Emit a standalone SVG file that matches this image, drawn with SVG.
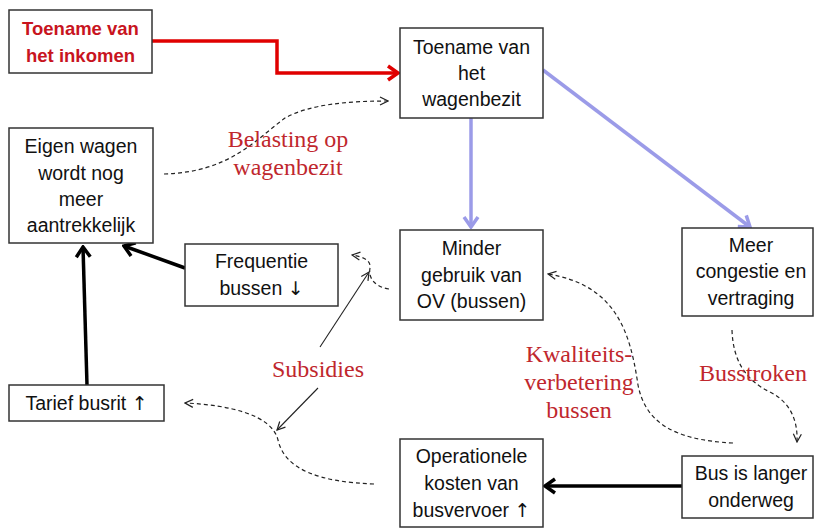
<svg xmlns="http://www.w3.org/2000/svg" width="814" height="528" viewBox="0 0 814 528">
<style>
.box{fill:#fff;stroke:#333;stroke-width:1.5}
.t{font-family:"Liberation Sans",Arial,sans-serif;font-size:19.5px;fill:#111;text-anchor:middle}
.ar{font-family:"DejaVu Sans",sans-serif;font-size:19px}
.tr{font-family:"Liberation Sans",Arial,sans-serif;font-size:18.5px;font-weight:bold;fill:#c8141e;text-anchor:middle}
.lab{font-family:"Liberation Serif","Times New Roman",serif;font-size:24px;fill:#c0272d;text-anchor:middle}
.red{fill:none;stroke:#e00000;stroke-width:3.5}
.blue{fill:none;stroke:#9b9be8;stroke-width:3.5}
.blk{fill:none;stroke:#000;stroke-width:3.5}
.thin{fill:none;stroke:#222;stroke-width:1.1}
.dash{fill:none;stroke:#222;stroke-width:1.2;stroke-dasharray:4 3}
</style>
<defs>
<marker id="mRed" viewBox="0 0 14 18" refX="12" refY="9" markerWidth="14" markerHeight="18" markerUnits="userSpaceOnUse" orient="auto"><path d="M2,2 L12,9 L2,16" fill="none" stroke="#e00000" stroke-width="3.5"/></marker>
<marker id="mBlue" viewBox="0 0 14 18" refX="12" refY="9" markerWidth="14" markerHeight="18" markerUnits="userSpaceOnUse" orient="auto"><path d="M2,2 L12,9 L2,16" fill="none" stroke="#9b9be8" stroke-width="3.5"/></marker>
<marker id="mBlk" viewBox="0 0 14 18" refX="12" refY="9" markerWidth="14" markerHeight="18" markerUnits="userSpaceOnUse" orient="auto"><path d="M2,2 L12,9 L2,16" fill="none" stroke="#000" stroke-width="3.5"/></marker>
<marker id="mThin" viewBox="0 0 10 10" refX="9" refY="5" markerWidth="10" markerHeight="10" markerUnits="userSpaceOnUse" orient="auto"><path d="M1,1 L9,5 L1,9" fill="none" stroke="#222" stroke-width="1.2"/></marker>
</defs>

<g id="connectors">
<path class="red" d="M152,41 H277 V73 H398" marker-end="url(#mRed)"/>
<path class="blue" d="M471,118 V227" marker-end="url(#mBlue)"/>
<path class="blue" d="M543,70 L750,227" marker-end="url(#mBlue)"/>
<path class="blk" d="M185,268 L124,246" marker-end="url(#mBlk)"/>
<path class="blk" d="M87,385 L83,247" marker-end="url(#mBlk)"/>
<path class="blk" d="M682,486 H545" marker-end="url(#mBlk)"/>
<path class="dash" d="M164,174 C230,172 255,140 285,118 C310,104 350,101 388,101" marker-end="url(#mThin)"/>
<path class="dash" d="M389,289 C375,287 368,278 370,268 C371,262 366,257 352,255" marker-end="url(#mThin)"/>
<path class="dash" d="M374,484 C320,482 285,470 278,440 C272,415 230,405 185,403" marker-end="url(#mThin)"/>
<path class="dash" d="M733,443 C670,440 645,420 638,385 C630,330 615,285 548,274" marker-end="url(#mThin)"/>
<path class="dash" d="M732,330 C733,360 745,380 770,392 C790,402 798,420 797,442" marker-end="url(#mThin)"/>
<path class="thin" d="M320,347 L369,272" marker-end="url(#mThin)"/>
<path class="thin" d="M318,388 L277,430" marker-end="url(#mThin)"/>
</g>

<g id="lab-belasting"><text class="lab" x="288" y="147">Belasting op</text><text class="lab" x="288" y="175">wagenbezit</text></g>
<g id="lab-subsidies"><text class="lab" x="318" y="377">Subsidies</text></g>
<g id="lab-kwaliteit"><text class="lab" x="579" y="362">Kwaliteits-</text><text class="lab" x="579" y="390">verbetering</text><text class="lab" x="579" y="418">bussen</text></g>
<g id="lab-busstroken"><text class="lab" x="753" y="381">Busstroken</text></g>

<g id="n-inkomen"><rect class="box" x="9" y="10" width="143" height="63"/><text class="tr" x="80.5" y="35">Toename van</text><text class="tr" x="80.5" y="62">het inkomen</text></g>
<g id="n-wagenbezit"><rect class="box" x="400" y="28" width="143" height="90"/><text class="t" x="471.5" y="54">Toename van</text><text class="t" x="471.5" y="80">het</text><text class="t" x="471.5" y="106">wagenbezit</text></g>
<g id="n-eigen"><rect class="box" x="9" y="128" width="144" height="115"/><text class="t" x="81" y="153">Eigen wagen</text><text class="t" x="81" y="180">wordt nog</text><text class="t" x="81" y="206">meer</text><text class="t" x="81" y="232">aantrekkelijk</text></g>
<g id="n-frequentie"><rect class="box" x="185" y="244" width="153" height="62"/><text class="t" x="261.5" y="268">Frequentie</text><text class="t" x="261.5" y="295">bussen <tspan class="ar">↓</tspan></text></g>
<g id="n-minder"><rect class="box" x="400" y="230" width="143" height="90"/><text class="t" x="471.5" y="255">Minder</text><text class="t" x="471.5" y="282">gebruik van</text><text class="t" x="471.5" y="308">OV (bussen)</text></g>
<g id="n-congestie"><rect class="box" x="682" y="228" width="131" height="88"/><text class="t" x="751" y="252">Meer</text><text class="t" x="751" y="278">congestie en</text><text class="t" x="751" y="305">vertraging</text></g>
<g id="n-tarief"><rect class="box" x="9" y="385" width="155" height="36"/><text class="t" x="86.5" y="410">Tarief busrit <tspan class="ar">↑</tspan></text></g>
<g id="n-kosten"><rect class="box" x="400" y="439" width="143" height="88"/><text class="t" x="471.5" y="463">Operationele</text><text class="t" x="471.5" y="490">kosten van</text><text class="t" x="471.5" y="517">busvervoer <tspan class="ar">↑</tspan></text></g>
<g id="n-langer"><rect class="box" x="682" y="456" width="131" height="62"/><text class="t" x="751" y="480">Bus is langer</text><text class="t" x="751" y="507">onderweg</text></g>
</svg>
